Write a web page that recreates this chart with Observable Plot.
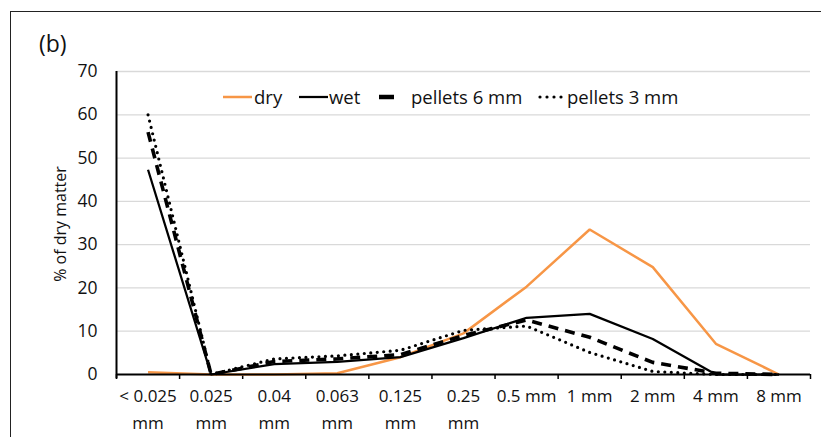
<!DOCTYPE html>
<html>
<head>
<meta charset="utf-8">
<script src="https://cdn.jsdelivr.net/npm/d3@7"></script>
<script src="https://cdn.jsdelivr.net/npm/@observablehq/plot@0.6"></script>
<style>
  html, body { margin: 0; padding: 0; background: #fff; }
  body { width: 821px; height: 437px; position: relative; overflow: hidden; font-family: "Open Sans", Lato, sans-serif; }
  #frame { position: absolute; left: 10px; top: 11px; width: 900px; height: 600px; border: 1.5px solid #222; box-sizing: border-box; }
  #chart { position: absolute; left: 0; top: 0; }
  #title { position: absolute; left: 39px; top: 27px; font-size: 23px; color: #111; }
  #ylabel { position: absolute; left: 60px; top: 224px; transform: translate(-50%, -50%) rotate(-90deg); font-size: 16px; white-space: nowrap; color: #111; }
  .sw { position: absolute; top: 86px; }
  .lt { position: absolute; top: 84px; height: 26px; line-height: 26px; font-size: 18.5px; color: #111; white-space: nowrap; }
</style>
</head>
<body>
<div id="frame"></div>
<div id="chart"></div>
<div id="title">(b)</div>
<div id="ylabel">% of dry matter</div>
<div id="legend"></div>
<script>
const categories = ["< 0.025\nmm", "0.025\nmm", "0.04\nmm", "0.063\nmm", "0.125\nmm", "0.25\nmm", "0.5 mm", "1 mm", "2 mm", "4 mm", "8 mm"];
const dry      = [0.5, 0.0, 0.0, 0.3, 4.0, 9.5, 20.3, 33.5, 24.8, 7.1, 0.0];
const wet      = [47.3, 0.0, 2.4, 2.9, 4.0, 8.4, 13.1, 14.0, 8.2, 0.0, 0.0];
const pellets6 = [56.0, 0.0, 3.0, 3.6, 4.6, 9.0, 12.6, 8.6, 2.8, 0.3, 0.0];
const pellets3 = [60.0, 0.0, 3.6, 4.3, 5.6, 10.2, 11.2, 5.1, 0.7, 0.0, 0.0];
const yTicks = [0, 10, 20, 30, 40, 50, 60, 70];

const seriesList = [
  {name: "dry", values: dry, stroke: "#F79646", width: 2.5, dash: null, cap: "butt"},
  {name: "wet", values: wet, stroke: "#000", width: 2.25, dash: null, cap: "butt"},
  {name: "pellets 6 mm", values: pellets6, stroke: "#000", width: 3.6, dash: "10 7", cap: "butt"},
  {name: "pellets 3 mm", values: pellets3, stroke: "#000", width: 3.2, dash: "0 6.5", cap: "round"}
];

const idx = categories.map((_, i) => i);
const bounds = d3.range(categories.length + 1).map(i => i - 0.5);

const lineMarks = seriesList.map(s =>
  Plot.line(idx.map(i => ({x: i, y: s.values[i]})), {
    x: "x", y: "y", stroke: s.stroke, strokeWidth: s.width,
    strokeDasharray: s.dash, strokeLinecap: s.cap, strokeLinejoin: "miter"
  })
);

const chart = Plot.plot({
  width: 821,
  height: 437,
  marginLeft: 116,
  marginRight: 11,
  marginTop: 71,
  marginBottom: 63,
  style: {fontFamily: "'Open Sans', Lato, sans-serif", fontSize: "17px", color: "#111", background: "transparent"},
  x: {domain: [-0.5, categories.length - 0.5], axis: null},
  y: {domain: [0, 70], axis: null},
  marks: [
    Plot.gridY(yTicks.slice(1), {stroke: "#d9d9d9", strokeOpacity: 1, strokeWidth: 1.3}),
    Plot.axisY(yTicks, {tickSize: 0, tickPadding: 19, label: null, fontSize: 17.5}),
    Plot.axisX(bounds, {tickSize: 5, tickFormat: () => "", label: null, stroke: "#000", strokeWidth: 1.5}),
    Plot.axisX(idx, {tickSize: 0, tickPadding: 9, tickFormat: i => categories[i], label: null, lineHeight: 1.55, fontSize: 17}),
    ...lineMarks,
    Plot.ruleY([0], {stroke: "#000", strokeWidth: 2}),
    Plot.ruleX([-0.5], {y1: -1, y2: 70, stroke: "#000", strokeWidth: 2})
  ]
});
document.getElementById("chart").appendChild(chart);

// legend
const swatchX = [223, 299, 372, 538];
const textX = [254, 329, 411, 567];
const legend = document.getElementById("legend");
seriesList.forEach((s, k) => {
  const sw = document.createElement("div");
  sw.className = "sw";
  sw.style.left = swatchX[k] + "px";
  let line;
  if (s.name === "pellets 6 mm") {
    line = `<line x1="7" x2="22" y1="11" y2="11" stroke="#000" stroke-width="4.5"/>`;
  } else if (s.cap === "round") {
    line = `<line x1="2" x2="28" y1="11" y2="11" stroke="#000" stroke-width="${s.width}" stroke-dasharray="0 7" stroke-linecap="round"/>`;
  } else {
    line = `<line x1="0" x2="29" y1="11" y2="11" stroke="${s.stroke}" stroke-width="${s.width}"/>`;
  }
  sw.innerHTML = `<svg width="30" height="22">${line}</svg>`;
  legend.appendChild(sw);
  const t = document.createElement("div");
  t.className = "lt";
  t.style.left = textX[k] + "px";
  t.textContent = s.name;
  legend.appendChild(t);
});
</script>
</body>
</html>
